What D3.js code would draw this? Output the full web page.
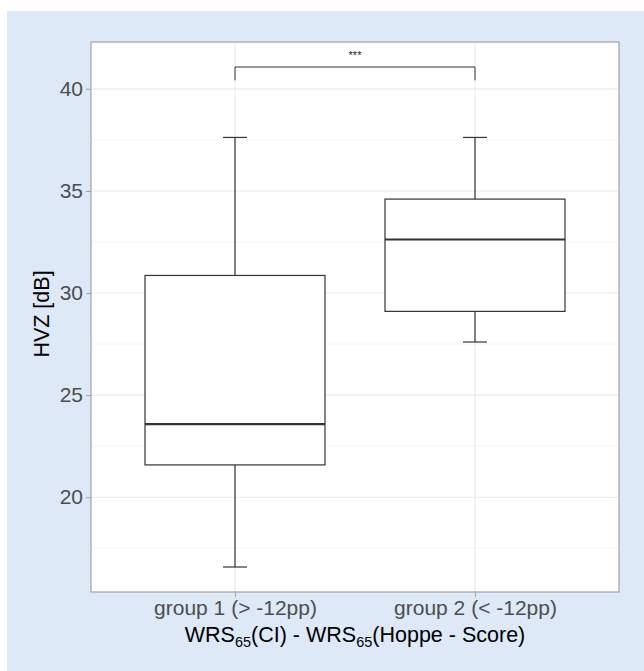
<!DOCTYPE html>
<html><head><meta charset="utf-8">
<script src="https://cdn.jsdelivr.net/npm/d3@7"></script>
<style>
html,body{margin:0;padding:0;background:#fff;}
svg{display:block;font-family:"Liberation Sans",Arial,Helvetica,sans-serif;}
</style></head>
<body>
<script>
const groups = ["group 1 (> -12pp)", "group 2 (< -12pp)"];
const whiskerLow = [16.58, 27.6];
const q1 = [21.58, 29.1];
const median = [23.58, 32.62];
const q3 = [30.86, 34.6];
const whiskerHigh = [37.62, 37.62];
const yTicks = [20, 25, 30, 35, 40];
const yMinor = [17.5, 22.5, 27.5, 32.5, 37.5];
const sigLabel = "***";
const sigY = 41.07;
const sigTipY = 40.42;

const W = 644, H = 671;
const L = 91, R = 619, T = 42, B = 592;

const svg = d3.select("body").append("svg").attr("width", W).attr("height", H);
svg.append("rect").attr("x", 7).attr("y", 11).attr("width", W - 7).attr("height", H - 11).attr("fill", "#dde9f7");
svg.append("rect").attr("x", L).attr("y", T).attr("width", R - L).attr("height", B - T).attr("fill", "#fff");

const lo = d3.min(whiskerLow), hi = Math.max(d3.max(whiskerHigh), sigY);
const pad = (hi - lo) * 0.05;
const y = d3.scaleLinear().domain([lo - pad, hi + pad]).range([B, T]);
// ggplot-like discrete scale: centers at 0.6 and 1.6 of 2.2 units
const unit = (R - L) / 2.2;
const xc = d => L + (groups.indexOf(d) + 0.6) * unit;

// grid
svg.append("g").selectAll("line").data(yMinor).join("line")
  .attr("x1", L).attr("x2", R).attr("y1", d => y(d)).attr("y2", d => y(d))
  .attr("stroke", "#f2f2f2").attr("stroke-width", 0.8);
svg.append("g").selectAll("line").data(yTicks).join("line")
  .attr("x1", L).attr("x2", R).attr("y1", d => y(d)).attr("y2", d => y(d))
  .attr("stroke", "#ebebeb").attr("stroke-width", 1.1);
svg.append("g").selectAll("line").data(groups).join("line")
  .attr("x1", d => xc(d)).attr("x2", d => xc(d)).attr("y1", T).attr("y2", B)
  .attr("stroke", "#ebebeb").attr("stroke-width", 1.1);

const stroke = "#333333";
const boxes = svg.append("g").selectAll("g").data(groups).join("g");
boxes.append("line").attr("x1", d => xc(d)).attr("x2", d => xc(d))
  .attr("y1", (d, i) => y(whiskerHigh[i])).attr("y2", (d, i) => y(q3[i]))
  .attr("stroke", stroke).attr("stroke-width", 1.2);
boxes.append("line").attr("x1", d => xc(d)).attr("x2", d => xc(d))
  .attr("y1", (d, i) => y(whiskerLow[i])).attr("y2", (d, i) => y(q1[i]))
  .attr("stroke", stroke).attr("stroke-width", 1.2);
[whiskerHigh, whiskerLow].forEach(arr => {
  boxes.append("line").attr("x1", d => xc(d) - unit * 0.05).attr("x2", d => xc(d) + unit * 0.05)
    .attr("y1", (d, i) => y(arr[i])).attr("y2", (d, i) => y(arr[i]))
    .attr("stroke", stroke).attr("stroke-width", 1.2);
});
boxes.append("rect").attr("x", d => xc(d) - unit * 0.375).attr("width", unit * 0.75)
  .attr("y", (d, i) => y(q3[i])).attr("height", (d, i) => y(q1[i]) - y(q3[i]))
  .attr("fill", "#fff").attr("stroke", stroke).attr("stroke-width", 1.2);
boxes.append("line").attr("x1", d => xc(d) - unit * 0.375).attr("x2", d => xc(d) + unit * 0.375)
  .attr("y1", (d, i) => y(median[i])).attr("y2", (d, i) => y(median[i]))
  .attr("stroke", stroke).attr("stroke-width", 2.2);

// significance bracket
const x1 = xc(groups[0]), x2 = xc(groups[1]);
svg.append("path")
  .attr("d", `M${x1},${y(sigTipY)}V${y(sigY)}H${x2}V${y(sigTipY)}`)
  .attr("fill", "none").attr("stroke", "#333").attr("stroke-width", 1);
svg.append("text").attr("x", (x1 + x2) / 2).attr("y", y(sigY) - 8)
  .attr("text-anchor", "middle").attr("font-size", 11).attr("fill", "#222").text(sigLabel);

// panel border
svg.append("rect").attr("x", L).attr("y", T).attr("width", R - L).attr("height", B - T)
  .attr("fill", "none").attr("stroke", "#a8a8a8").attr("stroke-width", 1.3);

// y axis
const yAxis = d3.axisLeft(y).tickValues(yTicks).tickSize(5).tickPadding(3);
const gy = svg.append("g").attr("transform", `translate(${L},0)`).call(yAxis);
gy.select(".domain").remove();
gy.selectAll(".tick line").attr("stroke", "#a8a8a8").attr("stroke-width", 1.1);
gy.selectAll(".tick text").attr("font-size", 21).attr("fill", "#4d4d4d")
  .attr("font-family", "Liberation Sans, Arial, sans-serif");

// x axis
const xs = d3.scalePoint().domain(groups).range([xc(groups[0]), xc(groups[1])]);
const xAxis = d3.axisBottom(xs).tickSize(5).tickPadding(3);
const gx = svg.append("g").attr("transform", `translate(0,${B})`).call(xAxis);
gx.select(".domain").remove();
gx.selectAll(".tick line").attr("stroke", "#a8a8a8").attr("stroke-width", 1.1);
gx.selectAll(".tick text").attr("font-size", 21).attr("fill", "#4d4d4d")
  .attr("font-family", "Liberation Sans, Arial, sans-serif");

// y title
svg.append("text").attr("transform", `translate(49,314) rotate(-90)`)
  .attr("text-anchor", "middle").attr("font-size", 21.5).attr("fill", "#000").text("HVZ [dB]");

// x title with subscripts
const xt = svg.append("text").attr("x", (L + R) / 2).attr("y", 642)
  .attr("text-anchor", "middle").attr("font-size", 21.5).attr("fill", "#000");
xt.append("tspan").text("WRS");
xt.append("tspan").attr("font-size", 14.5).attr("dy", 5).text("65");
xt.append("tspan").attr("dy", -5).text("(CI) - WRS");
xt.append("tspan").attr("font-size", 14.5).attr("dy", 5).text("65");
xt.append("tspan").attr("dy", -5).text("(Hoppe - Score)");
</script>
</body></html>
